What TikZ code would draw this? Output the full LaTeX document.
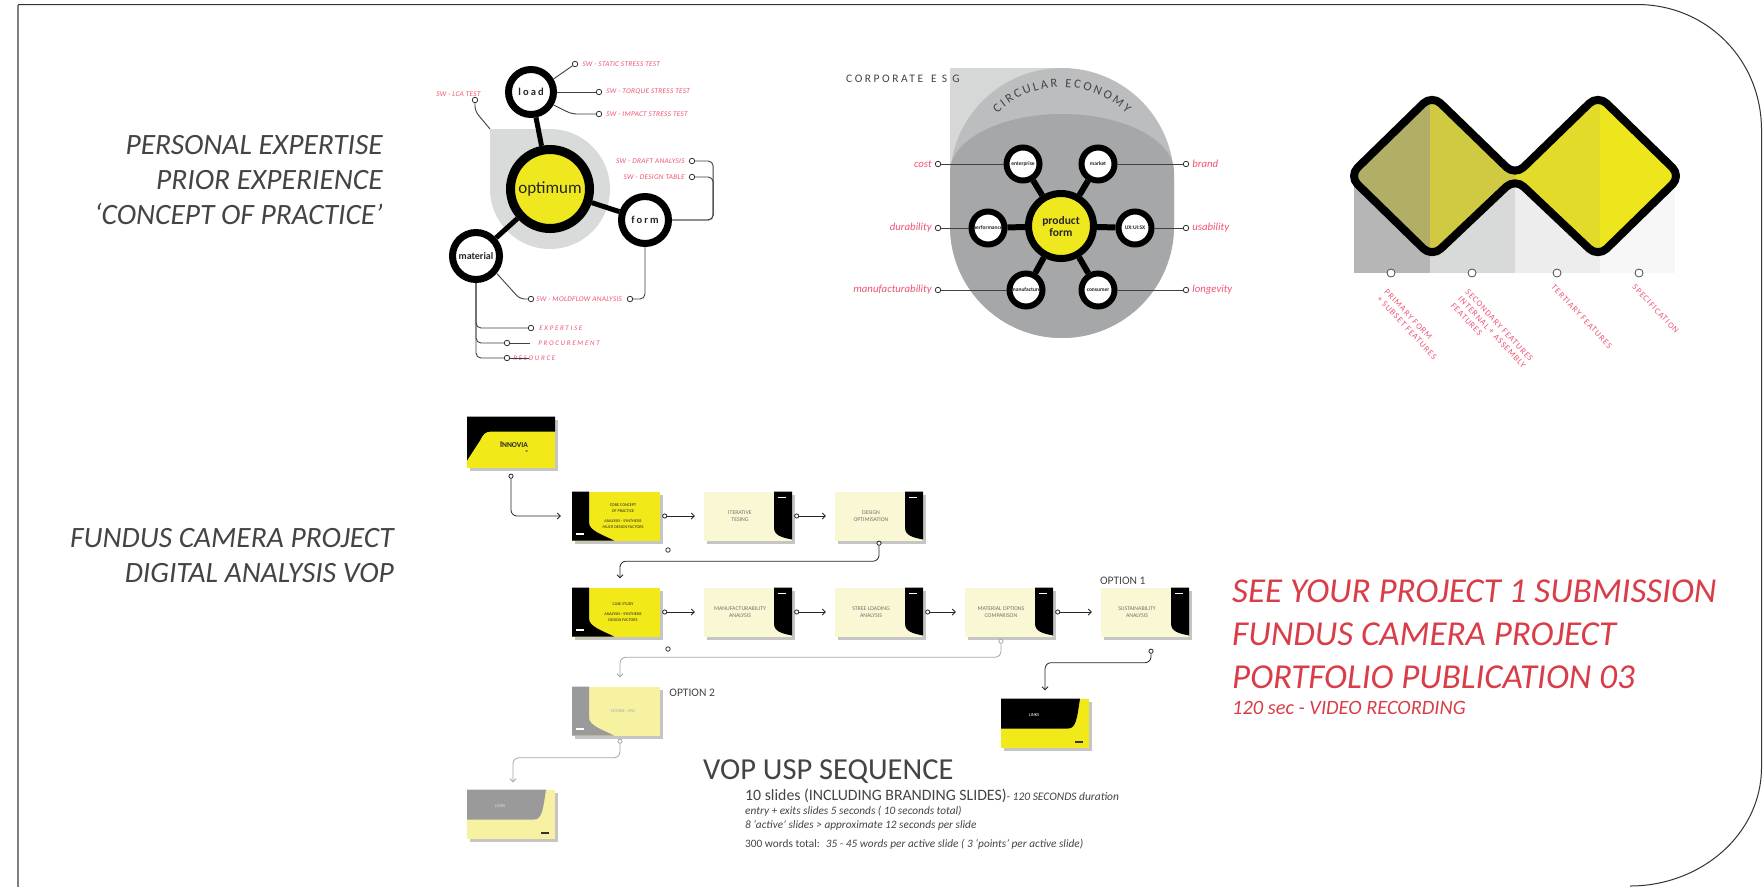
\documentclass[tikz,border=0pt]{standalone}
\usepackage{fontspec}
\setmainfont{Carlito}
\usetikzlibrary{positioning, arrows.meta, shadows, decorations.text}

\definecolor{mapyellow}{HTML}{F0E81E}
\definecolor{mapgray}{HTML}{D9DADA}
\definecolor{esglight}{HTML}{D6D7D7}
\definecolor{esgmid}{HTML}{BCBDBE}
\definecolor{esgdark}{HTML}{A6A7A8}
\definecolor{pinklbl}{HTML}{EF5471}
\definecolor{redtxt}{HTML}{D93D48}
\definecolor{inkgray}{HTML}{444444}
\definecolor{slideyellow}{HTML}{F2EA18}
\definecolor{slidecream}{HTML}{FAF8D4}
\definecolor{slidepale}{HTML}{F6F2A2}
\definecolor{slidegray}{HTML}{9A9A9A}
\definecolor{bandA}{HTML}{B3AE66}
\definecolor{bandB}{HTML}{CFCA42}
\definecolor{bandC}{HTML}{E2DB29}
\definecolor{bandD}{HTML}{EDE61C}
\definecolor{colA}{HTML}{B5B6B5}
\definecolor{colB}{HTML}{D8D9D9}
\definecolor{colC}{HTML}{EDEDED}
\definecolor{colD}{HTML}{F7F7F7}

\tikzset{
  ring/.style={circle, draw=black, fill=white, inner sep=0pt, text=black!85},
  esgring/.style={ring, line width=6pt, minimum size=33pt, font=\bfseries\fontsize{5.5}{5.5}\selectfont},
  stem/.style={line width=5pt},
  esgstem/.style={line width=6pt},
  dot/.style={circle, draw=black!80, fill=white, line width=0.8pt, minimum size=5.5pt, inner sep=0pt},
  fdot/.style={dot, draw=black!70, minimum size=8pt},
  lead/.style={line width=0.9pt, draw=black!75, rounded corners=5pt},
  swlbl/.style={text=pinklbl, inner sep=1pt, font=\fontsize{7.3}{8}\selectfont\itshape\addfontfeature{LetterSpace=4}},
  widelbl/.style={swlbl, font=\fontsize{7}{8}\selectfont\itshape\addfontfeature{LetterSpace=24}},
  sidelbl/.style={text=pinklbl, inner sep=1pt, font=\fontsize{10.8}{11}\selectfont\itshape},
  featlbl/.style={text=pinklbl, inner sep=0pt, rotate=-47, anchor=north west, align=left, font=\fontsize{8.5}{10}\selectfont\addfontfeature{LetterSpace=12}},
  bigtxt/.style={text=inkgray, inner sep=0pt, align=right, anchor=north east, font=\fontsize{29.5}{35}\selectfont\itshape},
  opt/.style={text=inkgray, inner sep=0pt, font=\fontsize{11.5}{11.5}\selectfont},
  notes/.style={anchor=base west, inner sep=0pt, text=inkgray, font=\fontsize{11.3}{12}\selectfont\itshape},
  slide/.style={minimum width=88pt, minimum height=49pt, inner sep=0pt,
    drop shadow={shadow xshift=3pt, shadow yshift=-3.5pt, fill=black!45, opacity=.5}},
  cslide/.style={slide, fill=slidecream, path picture={
    \fill[black] ([xshift=-18pt]path picture bounding box.north east) -- ++(0pt,-36pt)
      .. controls +(0pt,-8pt) and +(-10pt,2pt) .. ([yshift=1pt]path picture bounding box.south east)
      -- (path picture bounding box.north east) -- cycle;
    \fill[white] ([shift={(-14pt,-5pt)}]path picture bounding box.north east) rectangle +(8pt,-1.5pt);}},
  sslide/.style 2 args={slide, fill=#1, path picture={
    \fill[#2] (path picture bounding box.north west) -- ++(17pt,0pt) -- ++(0pt,-31pt)
      .. controls +(0pt,-8pt) and +(-12pt,6pt) .. ([xshift=42pt]path picture bounding box.south west)
      -- (path picture bounding box.south west) -- cycle;
    \fill[white] ([shift={(4pt,6pt)}]path picture bounding box.south west) rectangle +(8pt,1.5pt);}},
  lslide/.style 2 args={slide, fill=#1, path picture={
    \fill[#2] (path picture bounding box.north west) -- ++(79pt,0pt)
      .. controls +(-3pt,-20pt) and +(8pt,0pt) .. ++(-12pt,-30pt)
      -- ([yshift=-30pt]path picture bounding box.north west) -- cycle;
    \fill[black!80] ([shift={(-14pt,5pt)}]path picture bounding box.south east) rectangle +(8pt,1.5pt);}},
  innovia/.style={slide, minimum height=51pt, fill=slideyellow, path picture={
    \fill[black] (path picture bounding box.north west) -- (path picture bounding box.north east) -- ++(0pt,-15pt)
      -- ([shift={(24pt,-15pt)}]path picture bounding box.north west)
      .. controls +(-6pt,0pt) and +(3pt,6pt) .. ([shift={(13pt,-24pt)}]path picture bounding box.north west)
      -- ([yshift=-44pt]path picture bounding box.north west) -- cycle;}},
  ytxt/.style={xshift=7pt, align=center, inner sep=0pt, text=black!85, font=\fontsize{4.2}{5.8}\selectfont},
  ctxt/.style={xshift=-8pt, align=center, inner sep=0pt, text=black!55, font=\fontsize{5.8}{7.5}\selectfont},
  ltxt/.style={xshift=-11pt, yshift=8pt, inner sep=0pt, font=\fontsize{4.5}{4.5}\selectfont},
  flow/.style={line width=0.8pt, draw=black!85, rounded corners=6pt,
    {Circle[fill=white,length=5pt,width=5pt]}-{Straight Barb[length=3pt,width=6pt]},
    shorten <=2pt, shorten >=9pt},
  flowgray/.style={flow, draw=black!35}
}

\begin{document}
\begin{tikzpicture}[x=1pt, y=-1pt]
\fill[white] (0,0) rectangle (1763,887);
\useasboundingbox (0,0) rectangle (1763,887);

% page frame
\draw[black!50, line width=1.6pt] (18,887) -- (18,4.5);
\draw[black!80, line width=1pt] (18,4.5) -- (1637,4.5)
  .. controls (1707,4.5) and (1761.5,60) .. (1761.5,130) -- (1761.5,767)
  .. controls (1761.5,835) and (1700,886) .. (1630,886);

% left headings
\node[bigtxt] (expertise) at (383,135) {PERSONAL EXPERTISE\\PRIOR EXPERIENCE\\‘CONCEPT OF PRACTICE’};
\node[bigtxt] (fundus) at (394,528) {FUNDUS CAMERA PROJECT\\DIGITAL ANALYSIS VOP};

% optimum map
\fill[mapgray] (490,129) -- (550,129) arc[start angle=-90, end angle=180, radius=60] -- cycle;
\coordinate (graycorner) at (490,129);
\node[ring, line width=7pt, minimum size=45pt, font=\bfseries\fontsize{10.5}{10}\selectfont\addfontfeature{LetterSpace=20}] (load) at (531,92) {load};
\node[ring, line width=9pt, minimum size=79pt, fill=mapyellow, font=\fontsize{17}{17}\selectfont] (optimum) at (550,189) {optimum};
\node[ring, line width=7pt, minimum size=47pt, font=\bfseries\fontsize{10.5}{10}\selectfont\addfontfeature{LetterSpace=20}] (form) at (645,220) {form};
\node[ring, line width=7pt, minimum size=47pt, font=\bfseries\fontsize{10}{10}\selectfont] (material) at (476,256) {material};
\draw[stem] (load) -- (optimum);
\draw[stem] (optimum) -- (form);
\draw[stem] (optimum) -- (material);

\node[dot] (staticdot) at (575,64) {};
\node[swlbl, right=3pt of staticdot] (static) {SW - STATIC STRESS TEST};
\node[dot] (torquedot) at (599,92) {};
\node[swlbl, right=3pt of torquedot] (torque) {SW - TORQUE STRESS TEST};
\node[dot] (impactdot) at (599,114) {};
\node[swlbl, right=3pt of impactdot] (impact) {SW - IMPACT STRESS TEST};
\node[dot] (lcadot) at (475,100) {};
\node[swlbl, above left=0pt and -9pt of lcadot] (lca) {SW - LCA TEST};
\node[dot] (draftdot) at (692,161) {};
\node[swlbl, left=3pt of draftdot] (draft) {SW - DRAFT ANALYSIS};
\node[dot] (tabledot) at (692,177) {};
\node[swlbl, left=3pt of tabledot] (dtable) {SW - DESIGN TABLE};
\node[dot] (mfldot) at (531,299) {};
\node[swlbl, right=1pt of mfldot] (moldflow) {SW - MOLDFLOW ANALYSIS};
\node[dot] (mfrdot) at (630,299) {};
\node[dot] (exptdot) at (531,328) {};
\node[widelbl, right=4pt of exptdot] (expt) {EXPERTISE};
\node[dot] (procdot) at (507,343) {};
\node[widelbl, right=27pt of procdot] (proc) {PROCUREMENT};
\node[dot] (resdot) at (507,358) {};
\node[widelbl, right=2pt of resdot] (res) {RESOURCE};

\draw[lead] (load.30) -- (staticdot);
\draw[lead] (load) -- (torquedot);
\draw[lead] (load.-30) -- ([xshift=-24pt]impactdot.west) -- (impactdot);
\draw[lead] (lcadot) -- ++(0,11) -- (graycorner);
\draw[lead] (form.east) -| ([xshift=18pt]draftdot.east) -- (draftdot);
\draw[lead] (form.east) -| ([xshift=18pt]tabledot.east) -- (tabledot);
\draw[lead] (material.-40) -- ([xshift=-8pt]mfldot.west) -- (mfldot);
\draw[lead] (form.south) |- (mfrdot);
\draw[lead] (material.south) |- (exptdot);
\draw[lead] (material.south) |- (procdot);
\draw[lead] (material.south) |- (resdot);
\draw[lead] (procdot) -- ++(23,0);
\draw[lead] (resdot) -- ++(22,0);

% corporate esg
\fill[esglight] (950,68) rectangle (1062,200);
\fill[esgmid] (950,180) arc[start angle=180, end angle=360, radius=112] -- (1174,226)
  arc[start angle=0, end angle=180, radius=112] -- cycle;
\fill[esgdark] (950,172) arc[start angle=180, end angle=360, x radius=112, y radius=58] -- (1174,226)
  arc[start angle=0, end angle=180, radius=112] -- cycle;
\node[anchor=west, inner sep=0pt, text=inkgray, font=\fontsize{11.5}{11}\selectfont\addfontfeature{LetterSpace=22}] (esg) at (846,79) {CORPORATE\hspace{8pt}E S G};
\path[decorate, decoration={text along path, text align={fit to path},
  text={|\fontsize{12.5}{12}\selectfont\color{inkgray}|CIRCULAR ECONOMY}}]
  (1062,180) ++(-134:93) arc[start angle=-134, end angle=-46, radius=93];

\node[ring, line width=7pt, minimum size=65pt, fill=mapyellow, align=center, font=\bfseries\fontsize{11.5}{12}\selectfont] (product) at (1061,226) {product\\form};
\node[esgring] (enterprise) at (1023,164) {enterprise};
\node[esgring] (market) at (1098,164) {market};
\node[esgring] (performance) at (988,228) {performance};
\node[esgring] (uxuisx) at (1135,228) {UX:UI:SX};
\node[esgring] (manufacture) at (1026,290) {manufacture};
\node[esgring] (consumer) at (1098,290) {consumer};
\foreach \n in {enterprise, market, performance, uxuisx, manufacture, consumer}
  \draw[esgstem] (product) -- (\n);

\node[dot] (costdot) at (938,164) {};
\node[sidelbl, left=2pt of costdot] (cost) {cost};
\node[dot] (durdot) at (938,228) {};
\node[sidelbl, left=2pt of durdot] (durability) {durability};
\node[dot] (mfgdot) at (938,290) {};
\node[sidelbl, left=2pt of mfgdot] (manufacturability) {manufacturability};
\node[dot] (branddot) at (1186,164) {};
\node[sidelbl, right=2pt of branddot] (brand) {brand};
\node[dot] (usedot) at (1186,228) {};
\node[sidelbl, right=2pt of usedot] (usability) {usability};
\node[dot] (longdot) at (1186,290) {};
\node[sidelbl, right=2pt of longdot] (longevity) {longevity};
\draw[lead] (costdot) -- (enterprise);
\draw[lead] (durdot) -- (performance);
\draw[lead] (mfgdot) -- (manufacture);
\draw[lead] (branddot) -- (market);
\draw[lead] (usedot) -- (uxuisx);
\draw[lead] (longdot) -- (consumer);

% feature loop
\fill[colA] (1354,176) rectangle (1430,273);
\fill[colB] (1430,176) rectangle (1515,273);
\fill[colC] (1515,176) rectangle (1600,273);
\fill[colD] (1600,176) rectangle (1675,273);
\draw[line width=8pt, line join=round, rounded corners=12pt, path picture={
    \fill[bandA] (1330,80) rectangle (1430,270);
    \fill[bandB] (1430,80) rectangle (1515,270);
    \fill[bandC] (1515,80) rectangle (1600,270);
    \fill[bandD] (1600,80) rectangle (1700,270);}]
  (1390.5,216.5) -- (1349,176) -- (1432,95) -- (1515,175.5) -- (1598,95) -- (1681,176)
  -- (1598,257) -- (1515,178.5) -- (1432,257) -- cycle;

\node[fdot] (primary) at (1391,273) {};
\node[fdot] (secondary) at (1472,273) {};
\node[fdot] (tertiary) at (1557,273) {};
\node[fdot] (spec) at (1639,273) {};
\node[featlbl] (primarylbl) at ([shift={(-3pt,-11pt)}]primary.south) {PRIMARY FORM\\+ SUBSET FEATURES};
\node[featlbl] (secondarylbl) at ([shift={(-3pt,-11pt)}]secondary.south) {SECONDARY FEATURES\\INTERNAL + ASSEMBLY\\FEATURES};
\node[featlbl] (tertiarylbl) at ([shift={(-2pt,-6pt)}]tertiary.south) {TERTIARY FEATURES};
\node[featlbl] (speclbl) at ([shift={(-3pt,-6pt)}]spec.south) {SPECIFICATION};

% vop slide sequence
\node[innovia, label={[xshift=3pt, yshift=-4pt, inner sep=0pt, text=black!85, font=\bfseries\fontsize{7.5}{7}\selectfont]center:{\begin{tabular}{@{}l@{}}{\fontsize{6}{6}\selectfont„}\\[-2pt]INNOVIA\\[-3pt]\hfill{\fontsize{6}{6}\selectfont„}\end{tabular}}}] (innovia) at (511,442) {};

\node[sslide={slideyellow}{black}, label={[ytxt]center:{CORE CONCEPT\\OF PRACTICE\\[4pt]ANALYSIS - SYNTHESIS\\MULTI DESIGN FACTORS}}] (concept) at (616,516) {};
\node[cslide, label={[ctxt]center:{ITERATIVE\\TESING}}] (iterative) at (748,516) {};
\node[cslide, label={[ctxt]center:{DESIGN\\OPTIMISATION}}] (optimise) at (879,516) {};

\node[sslide={slideyellow}{black}, label={[ytxt]center:{CASE STUDY\\[4pt]ANALYSIS - SYNTHESIS\\DESIGN FACTORS}}] (casestudy) at (616,612) {};
\node[cslide, label={[ctxt]center:{MANUFACTURABILITY\\ANALYSIS}}] (manufact) at (748,612) {};
\node[cslide, label={[ctxt]center:{STREE LOADING\\ANALYSIS}}] (streeload) at (879,612) {};
\node[cslide, label={[ctxt]center:{MATERIAL OPTIONS\\COMPARISON}}] (matoptions) at (1009,612) {};
\node[cslide, label={[ctxt]center:{SUSTAINABILITY\\ANALYSIS}}] (sustain) at (1145,612) {};
\node[opt, above right=3pt and -1pt of sustain.north west] (option1) {OPTION 1};

\node[sslide={slidepale}{slidegray}, label={[ytxt, text=black!35]center:{FUTURE - CPD}}] (future) at (616,711) {};
\node[opt, anchor=north west] (option2) at ([shift={(9pt,-3pt)}]future.north east) {OPTION 2};
\node[lslide={slideyellow}{black}, label={[ltxt, text=white]center:{LINKS}}] (linksend) at (1045,723) {};
\node[lslide={slidepale}{slidegray}, label={[ltxt, text=white!85!black]center:{LINKS}}] (linksalt) at (511,814) {};

\node[dot, minimum size=4.5pt] (strayA) at (668,550) {};
\node[dot, minimum size=4.5pt] (strayB) at (668,649) {};

\draw[flow, shorten <=6pt, shorten >=11pt] (innovia.south) |- (concept.west);
\draw[flow] (concept) -- (iterative);
\draw[flow] (iterative) -- (optimise);
\draw[flow, shorten <=0pt] (optimise.south) -- ++(0,20.5) -| ([xshift=4pt]casestudy.north);
\draw[flow] (casestudy) -- (manufact);
\draw[flow] (manufact) -- (streeload);
\draw[flow] (streeload) -- (matoptions);
\draw[flow] (matoptions) -- (sustain);
\draw[flowgray] ([xshift=-8pt]matoptions.south) -- ++(0,20.5) -| ([xshift=4pt]future.north);
\draw[flow, shorten <=12pt, shorten >=8pt] ([xshift=6pt]sustain.south) -- ++(0,26) -| (linksend.north);
\draw[flowgray, shorten <=3pt, shorten >=7pt] ([xshift=4pt]future.south) -- ++(0,22) -| ([xshift=2pt]linksalt.north);

% sequence notes
\node[anchor=west, inner sep=0pt, text=inkgray, font=\fontsize{30.5}{30}\selectfont] (voptitle) at (703,772) {VOP USP SEQUENCE};
\node[notes, font=\fontsize{15.8}{16}\selectfont] (slidecount) at (745,800)
  {10 slides (INCLUDING BRANDING SLIDES){\fontsize{11.5}{12}\selectfont\itshape - 120 SECONDS duration}};
\node[notes] (entry) at (745,814) {entry + exits slides 5 seconds ( 10 seconds total)};
\node[notes] (active) at (745,828) {8 ‘active’ slides > approximate 12 seconds per slide};
\node[notes, font=\fontsize{11.3}{12}\selectfont] (words) at (745,847)
  {300 words total: \ \textit{35 - 45 words per active slide ( 3 ‘points’ per active slide)}};

% submission note
\node[anchor=north west, align=left, inner sep=0pt, text=redtxt, font=\fontsize{35}{43}\selectfont\itshape] (submission) at (1232,580)
  {SEE YOUR PROJECT 1 SUBMISSION\\FUNDUS CAMERA PROJECT\\PORTFOLIO PUBLICATION 03};
\node[anchor=north west, inner sep=0pt, text=redtxt, font=\fontsize{20.4}{20}\selectfont\itshape] (video) at (1232,701)
  {120 sec - VIDEO RECORDING};
\end{tikzpicture}
\end{document}
